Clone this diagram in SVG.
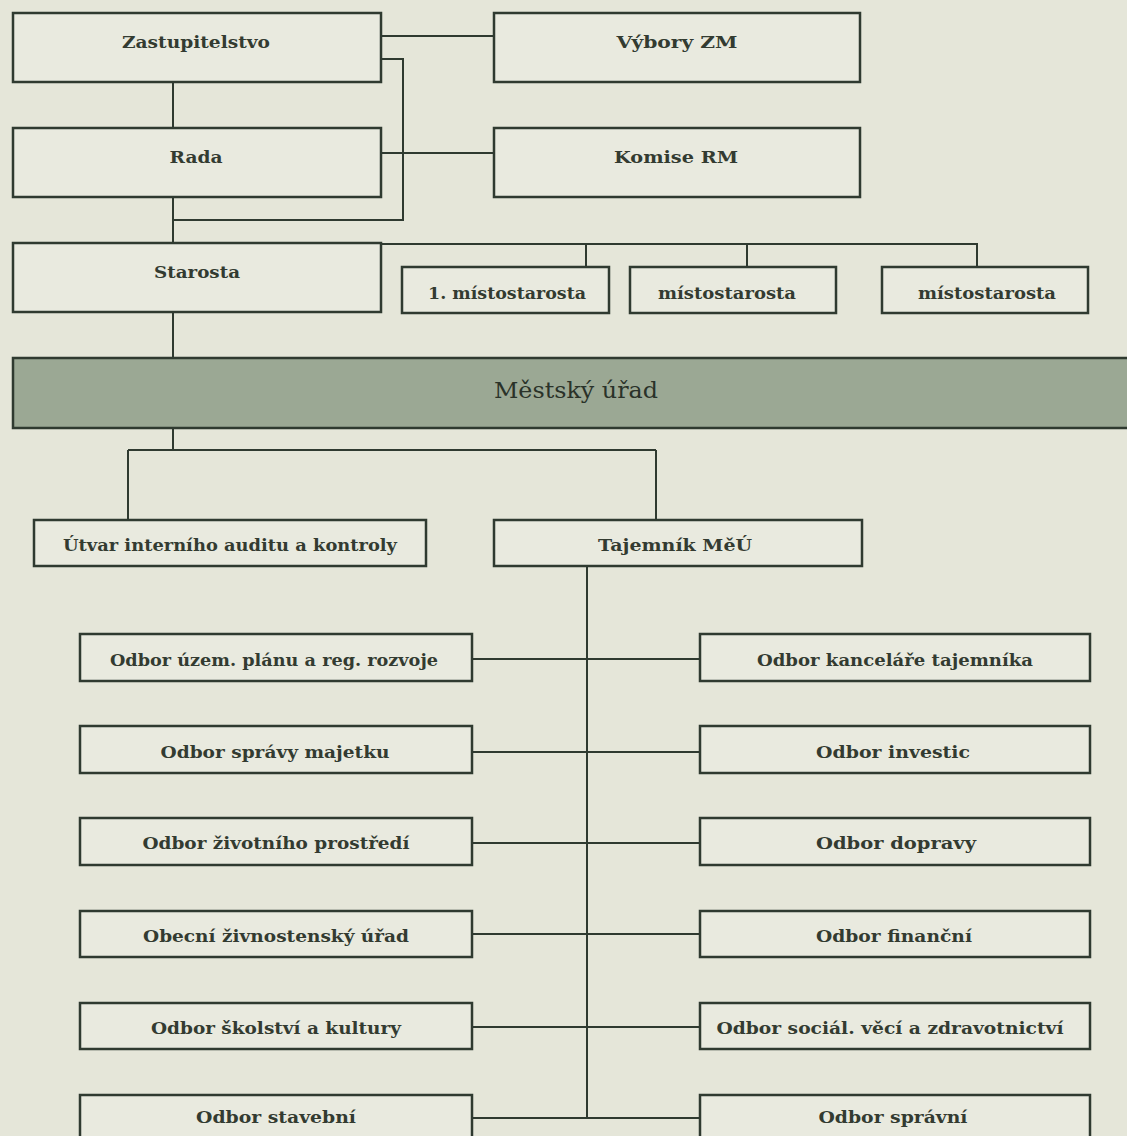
<svg xmlns="http://www.w3.org/2000/svg" width="1127" height="1136" viewBox="0 0 1127 1136">
<style>
.box{fill:#e9eadf;stroke:#2f3a30;stroke-width:2.5}
.main{fill:#9ba894;stroke:#2f3a30;stroke-width:2.5}
.ln{fill:none;stroke:#2f3a30;stroke-width:2}
.t{font-family:"DejaVu Serif","Liberation Serif",serif;font-size:17px;font-weight:bold;fill:#333b31;text-anchor:middle}
.tm{font-family:"DejaVu Serif","Liberation Serif",serif;font-size:22px;fill:#2a3229;text-anchor:middle}
</style>
<rect x="0" y="0" width="1127" height="1136" fill="#e5e6d9"/>
<g id="connectors">
<path class="ln" d="M381 36H494"/>
<path class="ln" d="M381 59H403V220H173"/>
<path class="ln" d="M381 153H494"/>
<path class="ln" d="M173 82V128"/>
<path class="ln" d="M173 197V243"/>
<path class="ln" d="M381 244H977V267"/>
<path class="ln" d="M586 244V267"/>
<path class="ln" d="M747 244V267"/>
<path class="ln" d="M173 312V358"/>
<path class="ln" d="M173 428V450"/>
<path class="ln" d="M128 450H656"/>
<path class="ln" d="M128 450V520"/>
<path class="ln" d="M656 450V520"/>
<path class="ln" d="M587 566V1118"/>
<path class="ln" d="M472 659H700"/>
<path class="ln" d="M472 752H700"/>
<path class="ln" d="M472 843H700"/>
<path class="ln" d="M472 934H700"/>
<path class="ln" d="M472 1027H700"/>
<path class="ln" d="M472 1118H700"/>
</g>
<g id="zastupitelstvo"><rect class="box" x="13" y="13" width="368" height="69"/><text class="t" x="196" y="48" textLength="148" lengthAdjust="spacingAndGlyphs">Zastupitelstvo</text></g>
<g id="vybory"><rect class="box" x="494" y="13" width="366" height="69"/><text class="t" x="677" y="48" textLength="121" lengthAdjust="spacingAndGlyphs">Výbory ZM</text></g>
<g id="rada"><rect class="box" x="13" y="128" width="368" height="69"/><text class="t" x="196" y="163" textLength="53" lengthAdjust="spacingAndGlyphs">Rada</text></g>
<g id="komise"><rect class="box" x="494" y="128" width="366" height="69"/><text class="t" x="676" y="163" textLength="124" lengthAdjust="spacingAndGlyphs">Komise RM</text></g>
<g id="starosta"><rect class="box" x="13" y="243" width="368" height="69"/><text class="t" x="197" y="278" textLength="86" lengthAdjust="spacingAndGlyphs">Starosta</text></g>
<g id="mist1"><rect class="box" x="402" y="267" width="207" height="46"/><text class="t" x="507" y="299" textLength="158" lengthAdjust="spacingAndGlyphs">1. místostarosta</text></g>
<g id="mist2"><rect class="box" x="630" y="267" width="206" height="46"/><text class="t" x="727" y="299" textLength="138" lengthAdjust="spacingAndGlyphs">místostarosta</text></g>
<g id="mist3"><rect class="box" x="882" y="267" width="206" height="46"/><text class="t" x="987" y="299" textLength="138" lengthAdjust="spacingAndGlyphs">místostarosta</text></g>
<g id="mestsky-urad"><rect class="main" x="13" y="358" width="1120" height="70"/><text class="tm" x="576" y="398" textLength="164" lengthAdjust="spacingAndGlyphs">Městský úřad</text></g>
<g id="utvar"><rect class="box" x="34" y="520" width="392" height="46"/><text class="t" x="230" y="551" textLength="334" lengthAdjust="spacingAndGlyphs">Útvar interního auditu a kontroly</text></g>
<g id="tajemnik"><rect class="box" x="494" y="520" width="368" height="46"/><text class="t" x="675" y="551" textLength="154" lengthAdjust="spacingAndGlyphs">Tajemník MěÚ</text></g>
<g id="odbor-uzem"><rect class="box" x="80" y="634" width="392" height="47"/><text class="t" x="274" y="666" textLength="328" lengthAdjust="spacingAndGlyphs">Odbor územ. plánu a reg. rozvoje</text></g>
<g id="odbor-majetku"><rect class="box" x="80" y="726" width="392" height="47"/><text class="t" x="275" y="758" textLength="229" lengthAdjust="spacingAndGlyphs">Odbor správy majetku</text></g>
<g id="odbor-zp"><rect class="box" x="80" y="818" width="392" height="47"/><text class="t" x="276" y="849" textLength="267" lengthAdjust="spacingAndGlyphs">Odbor životního prostředí</text></g>
<g id="zivnostensky"><rect class="box" x="80" y="911" width="392" height="46"/><text class="t" x="276" y="942" textLength="266" lengthAdjust="spacingAndGlyphs">Obecní živnostenský úřad</text></g>
<g id="odbor-skolstvi"><rect class="box" x="80" y="1003" width="392" height="46"/><text class="t" x="276" y="1034" textLength="250" lengthAdjust="spacingAndGlyphs">Odbor školství a kultury</text></g>
<g id="odbor-stavebni"><rect class="box" x="80" y="1095" width="392" height="50"/><text class="t" x="276" y="1123" textLength="160" lengthAdjust="spacingAndGlyphs">Odbor stavební</text></g>
<g id="odbor-kancelare"><rect class="box" x="700" y="634" width="390" height="47"/><text class="t" x="895" y="666" textLength="276" lengthAdjust="spacingAndGlyphs">Odbor kanceláře tajemníka</text></g>
<g id="odbor-investic"><rect class="box" x="700" y="726" width="390" height="47"/><text class="t" x="893" y="758" textLength="154" lengthAdjust="spacingAndGlyphs">Odbor investic</text></g>
<g id="odbor-dopravy"><rect class="box" x="700" y="818" width="390" height="47"/><text class="t" x="896" y="849" textLength="160" lengthAdjust="spacingAndGlyphs">Odbor dopravy</text></g>
<g id="odbor-financni"><rect class="box" x="700" y="911" width="390" height="46"/><text class="t" x="894" y="942" textLength="156" lengthAdjust="spacingAndGlyphs">Odbor finanční</text></g>
<g id="odbor-socialni"><rect class="box" x="700" y="1003" width="390" height="46"/><text class="t" x="890" y="1034" textLength="347" lengthAdjust="spacingAndGlyphs">Odbor sociál. věcí a zdravotnictví</text></g>
<g id="odbor-spravni"><rect class="box" x="700" y="1095" width="390" height="50"/><text class="t" x="893" y="1123" textLength="149" lengthAdjust="spacingAndGlyphs">Odbor správní</text></g>
</svg>
